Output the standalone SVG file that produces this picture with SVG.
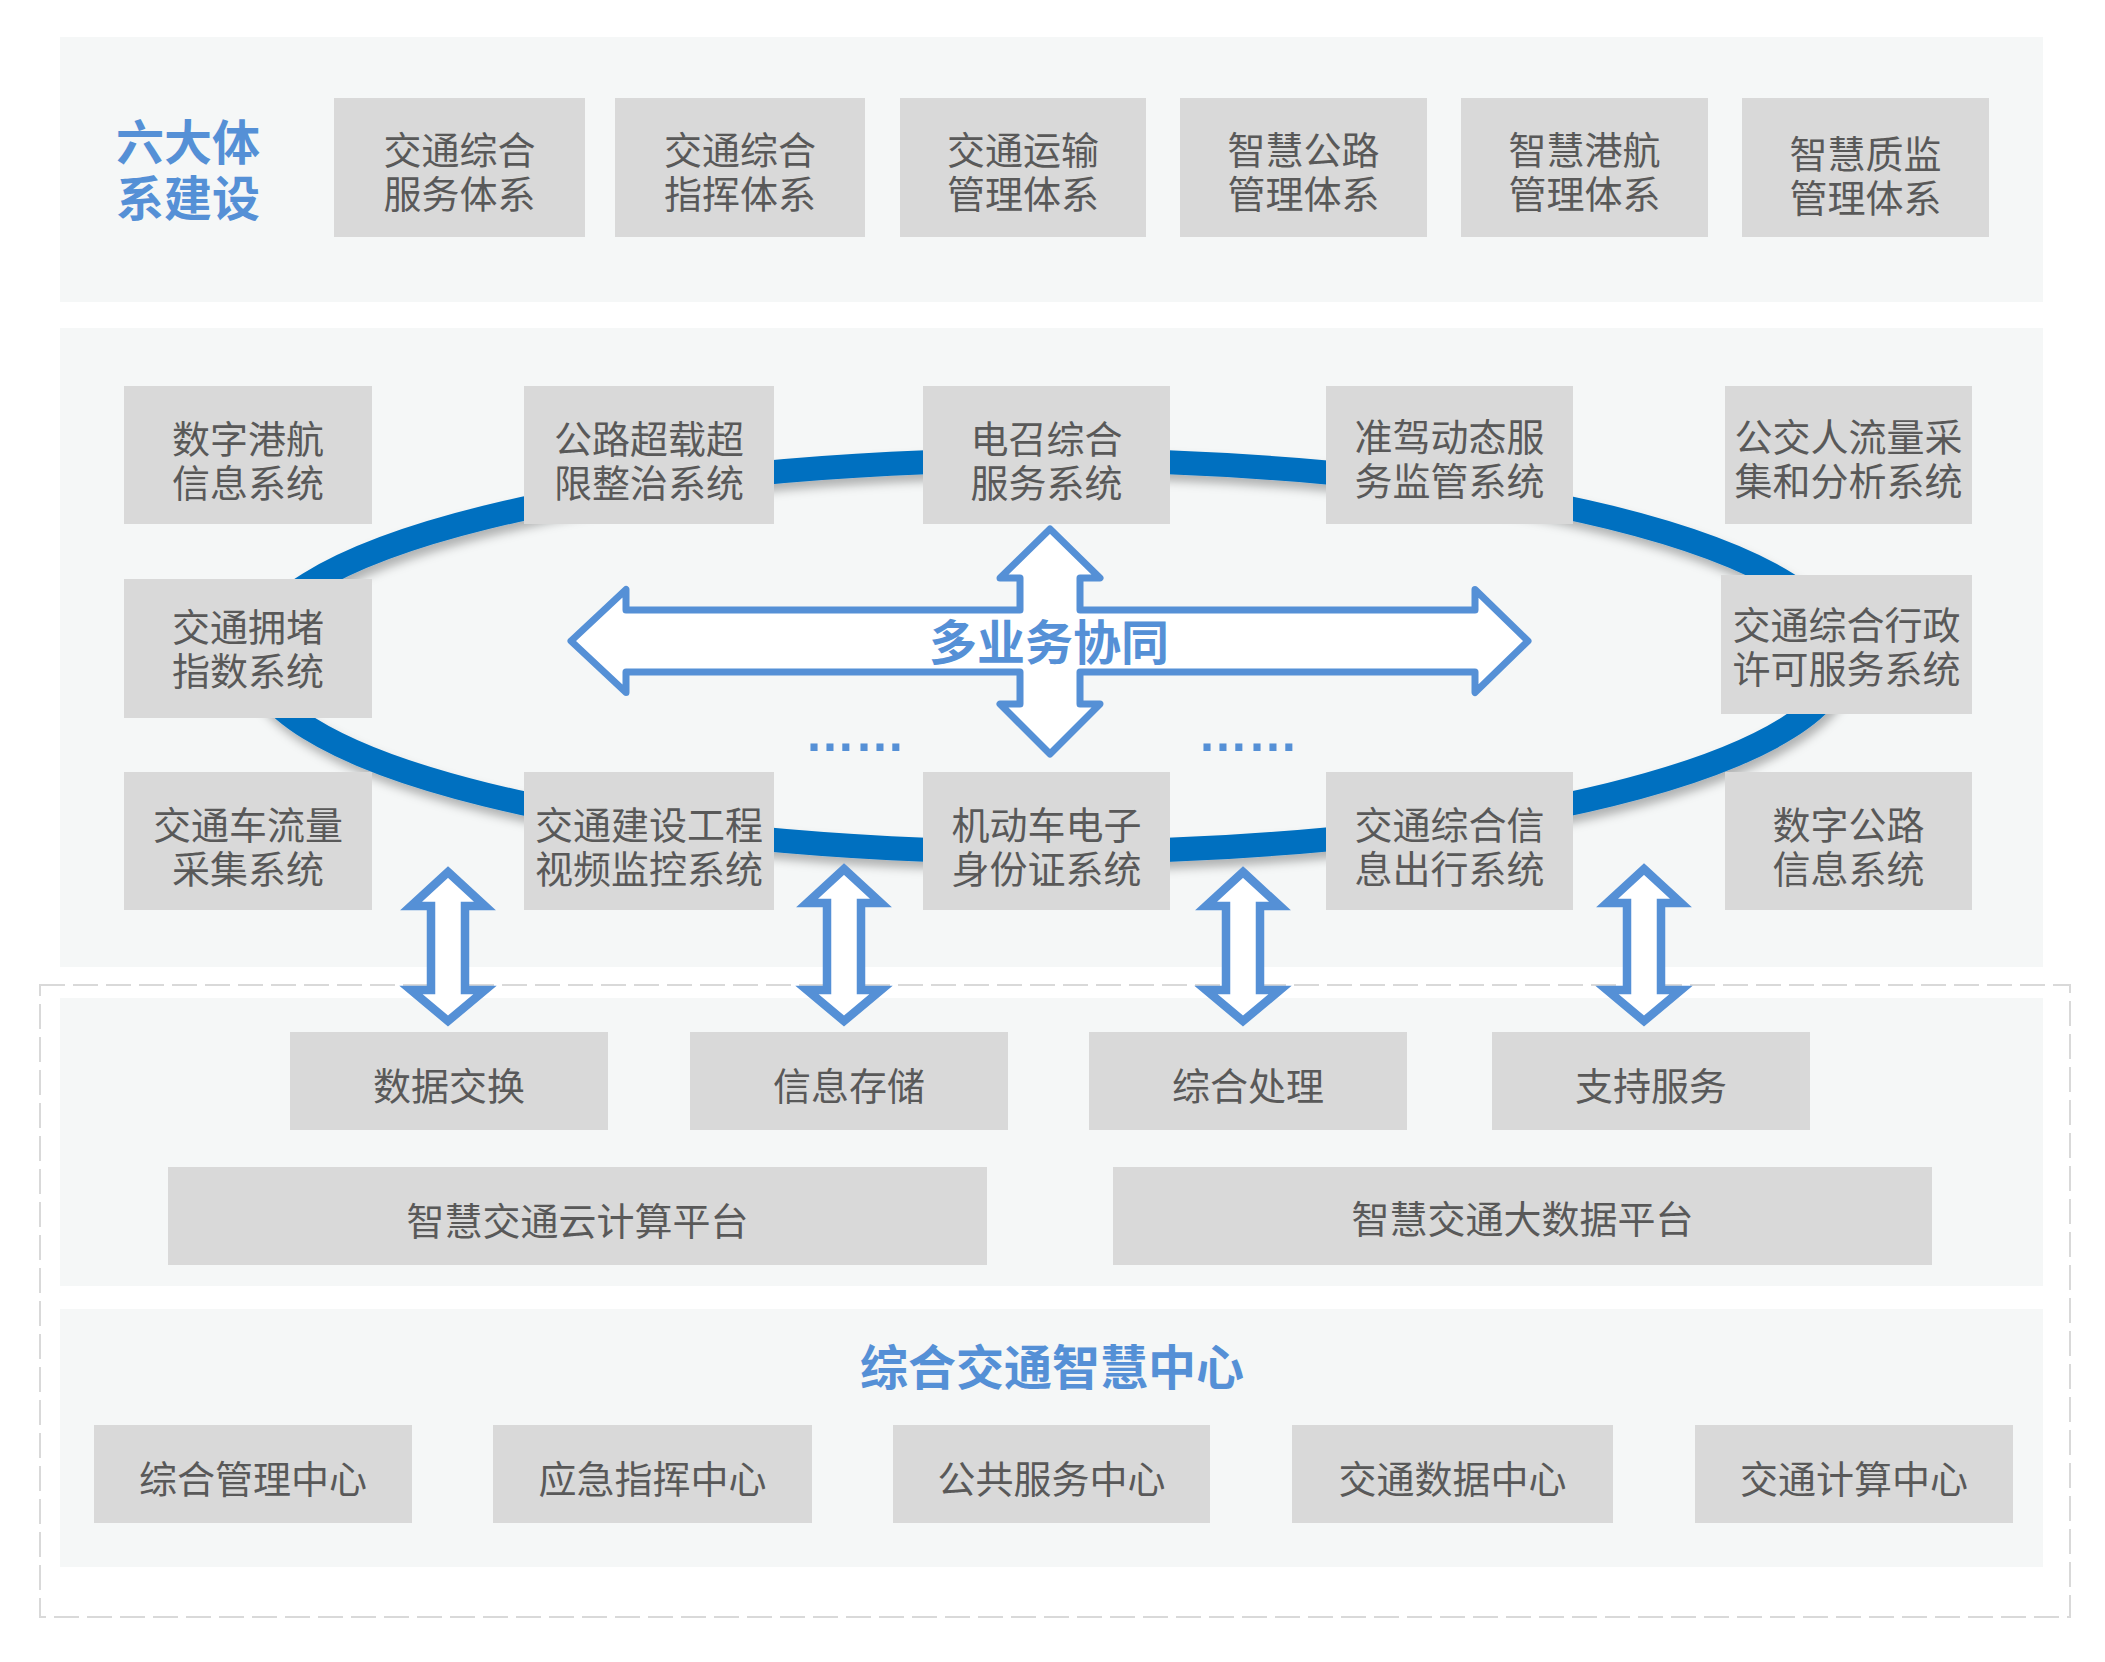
<svg xmlns="http://www.w3.org/2000/svg" width="2105" height="1662" viewBox="0 0 2105 1662">
<defs>
<style>
.panel{fill:#F5F7F7}
.box{fill:#D9D9D9}
.t{font-family:"Noto Sans CJK SC","Noto Sans",sans-serif;font-size:38px;fill:#595959;text-anchor:middle;dominant-baseline:central}
.title{font-family:"Noto Sans CJK SC","Noto Sans",sans-serif;font-size:48px;font-weight:bold;fill:#5590D6;text-anchor:middle;dominant-baseline:central}
.dots{font-family:"Liberation Sans",sans-serif;font-size:50px;font-weight:bold;fill:#5590D6;text-anchor:middle}
.varrow{fill:#FFFFFF;stroke:#5590D6;stroke-width:8.5;stroke-linejoin:miter}
.xarrow{fill:#FFFFFF;stroke:#5590D6;stroke-width:7;stroke-linejoin:round}
.ring{fill:none;stroke:#0070C0;stroke-width:24}
</style>
<filter id="sh" x="-10%" y="-20%" width="120%" height="140%">
<feDropShadow dx="3" dy="7" stdDeviation="5" flood-color="#000000" flood-opacity="0.28"/>
</filter>
</defs>
<rect width="2105" height="1662" fill="#FFFFFF"/>

<g id="panels">
<rect class="panel" x="60" y="37" width="1983" height="265"/>
<rect class="panel" x="60" y="328" width="1983" height="639"/>
<rect x="40" y="985" width="2030" height="632" fill="none" stroke="#D9D9D9" stroke-width="2" stroke-dasharray="25 8"/>
<rect class="panel" x="60" y="998" width="1983" height="288"/>
<rect class="panel" x="60" y="1309" width="1983" height="258"/>
</g>

<g id="title-six">
<text class="title"><tspan x="188" y="139">六大体</tspan><tspan x="188" y="195">系建设</tspan></text>
</g>

<g id="sys1"><rect class="box" x="334" y="98" width="251" height="139"/><text class="t"><tspan x="459.5" y="147">交通综合</tspan><tspan x="459.5" y="191">服务体系</tspan></text></g>
<g id="sys2"><rect class="box" x="615" y="98" width="250" height="139"/><text class="t"><tspan x="740" y="147">交通综合</tspan><tspan x="740" y="191">指挥体系</tspan></text></g>
<g id="sys3"><rect class="box" x="900" y="98" width="246" height="139"/><text class="t"><tspan x="1023" y="147">交通运输</tspan><tspan x="1023" y="191">管理体系</tspan></text></g>
<g id="sys4"><rect class="box" x="1180" y="98" width="247" height="139"/><text class="t"><tspan x="1303.5" y="147">智慧公路</tspan><tspan x="1303.5" y="191">管理体系</tspan></text></g>
<g id="sys5"><rect class="box" x="1461" y="98" width="247" height="139"/><text class="t"><tspan x="1584.5" y="147">智慧港航</tspan><tspan x="1584.5" y="191">管理体系</tspan></text></g>
<g id="sys6"><rect class="box" x="1742" y="98" width="247" height="139"/><text class="t"><tspan x="1865.5" y="151">智慧质监</tspan><tspan x="1865.5" y="195">管理体系</tspan></text></g>

<g id="connectors">
<ellipse class="ring" cx="1048" cy="656" rx="795" ry="196" filter="url(#sh)"/>
<path class="varrow" d="M448,872 L485,906 L465,906 L465,990 L485,990 L448,1021 L411,990 L431,990 L431,906 L411,906 Z"/>
<path class="varrow" d="M844,869 L881,903 L861,903 L861,990 L881,990 L844,1021 L807,990 L827,990 L827,903 L807,903 Z"/>
<path class="varrow" d="M1243,872 L1280,906 L1260,906 L1260,990 L1280,990 L1243,1021 L1206,990 L1226,990 L1226,906 L1206,906 Z"/>
<path class="varrow" d="M1644,869 L1681,903 L1661,903 L1661,990 L1681,990 L1644,1021 L1607,990 L1627,990 L1627,903 L1607,903 Z"/>
</g>

<g id="app-r1c1"><rect class="box" x="124" y="386" width="248" height="138"/><text class="t"><tspan x="248" y="436">数字港航</tspan><tspan x="248" y="480">信息系统</tspan></text></g>
<g id="app-r1c2"><rect class="box" x="524" y="386" width="250" height="138"/><text class="t"><tspan x="649" y="436">公路超载超</tspan><tspan x="649" y="480">限整治系统</tspan></text></g>
<g id="app-r1c3"><rect class="box" x="923" y="386" width="247" height="138"/><text class="t"><tspan x="1046.5" y="436">电召综合</tspan><tspan x="1046.5" y="480">服务系统</tspan></text></g>
<g id="app-r1c4"><rect class="box" x="1326" y="386" width="247" height="138"/><text class="t"><tspan x="1449.5" y="434">准驾动态服</tspan><tspan x="1449.5" y="478">务监管系统</tspan></text></g>
<g id="app-r1c5"><rect class="box" x="1725" y="386" width="247" height="138"/><text class="t"><tspan x="1848.5" y="434">公交人流量采</tspan><tspan x="1848.5" y="478">集和分析系统</tspan></text></g>
<g id="app-r2c1"><rect class="box" x="124" y="579" width="248" height="139"/><text class="t"><tspan x="248" y="624">交通拥堵</tspan><tspan x="248" y="668">指数系统</tspan></text></g>
<g id="app-r2c5"><rect class="box" x="1721" y="575" width="251" height="139"/><text class="t"><tspan x="1846.5" y="622">交通综合行政</tspan><tspan x="1846.5" y="666">许可服务系统</tspan></text></g>
<g id="app-r3c1"><rect class="box" x="124" y="772" width="248" height="138"/><text class="t"><tspan x="248" y="822">交通车流量</tspan><tspan x="248" y="866">采集系统</tspan></text></g>
<g id="app-r3c2"><rect class="box" x="524" y="772" width="250" height="138"/><text class="t"><tspan x="649" y="822">交通建设工程</tspan><tspan x="649" y="866">视频监控系统</tspan></text></g>
<g id="app-r3c3"><rect class="box" x="923" y="772" width="247" height="138"/><text class="t"><tspan x="1046.5" y="822">机动车电子</tspan><tspan x="1046.5" y="866">身份证系统</tspan></text></g>
<g id="app-r3c4"><rect class="box" x="1326" y="772" width="247" height="138"/><text class="t"><tspan x="1449.5" y="822">交通综合信</tspan><tspan x="1449.5" y="866">息出行系统</tspan></text></g>
<g id="app-r3c5"><rect class="box" x="1725" y="772" width="247" height="138"/><text class="t"><tspan x="1848.5" y="822">数字公路</tspan><tspan x="1848.5" y="866">信息系统</tspan></text></g>

<g id="collab">
<path class="xarrow" d="M1050,529 L1100,578 L1080,578 L1080,610 L1475,610 L1475,589.5 L1528,641 L1475,692.5 L1475,672 L1080,672 L1080,704 L1100,704 L1050,754 L1000,704 L1020,704 L1020,672 L626,672 L626,692.5 L571,641 L626,589.5 L626,610 L1020,610 L1020,578 L1000,578 Z"/>
<text class="title" x="1049" y="639">多业务协同</text>
</g>

<g id="more">
<text class="dots" x="855" y="751">……</text>
<text class="dots" x="1248" y="751">……</text>
</g>

<g id="svc1"><rect class="box" x="290" y="1032" width="318" height="98"/><text class="t" x="449" y="1083">数据交换</text></g>
<g id="svc2"><rect class="box" x="690" y="1032" width="318" height="98"/><text class="t" x="849" y="1083">信息存储</text></g>
<g id="svc3"><rect class="box" x="1089" y="1032" width="318" height="98"/><text class="t" x="1248" y="1083">综合处理</text></g>
<g id="svc4"><rect class="box" x="1492" y="1032" width="318" height="98"/><text class="t" x="1651" y="1083">支持服务</text></g>
<g id="cloud"><rect class="box" x="168" y="1167" width="819" height="98"/><text class="t" x="577.5" y="1218">智慧交通云计算平台</text></g>
<g id="bigdata"><rect class="box" x="1113" y="1167" width="819" height="98"/><text class="t" x="1522.5" y="1216">智慧交通大数据平台</text></g>

<g id="center-title"><text class="title" x="1052" y="1364">综合交通智慧中心</text></g>
<g id="ctr1"><rect class="box" x="94" y="1425" width="318" height="98"/><text class="t" x="253" y="1476">综合管理中心</text></g>
<g id="ctr2"><rect class="box" x="493" y="1425" width="319" height="98"/><text class="t" x="652.5" y="1476">应急指挥中心</text></g>
<g id="ctr3"><rect class="box" x="893" y="1425" width="317" height="98"/><text class="t" x="1051.5" y="1476">公共服务中心</text></g>
<g id="ctr4"><rect class="box" x="1292" y="1425" width="321" height="98"/><text class="t" x="1452.5" y="1476">交通数据中心</text></g>
<g id="ctr5"><rect class="box" x="1695" y="1425" width="318" height="98"/><text class="t" x="1854" y="1476">交通计算中心</text></g>
</svg>
